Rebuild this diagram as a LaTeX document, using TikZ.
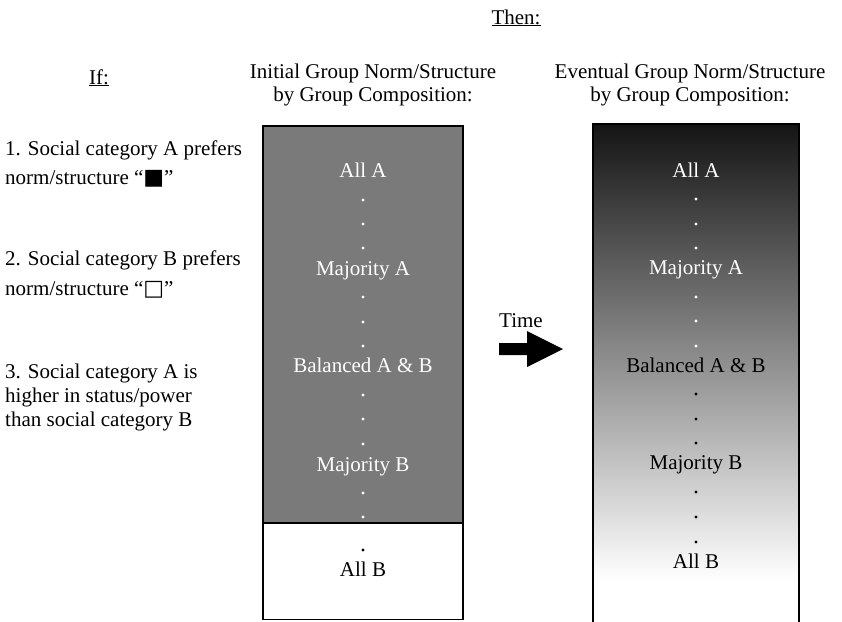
\documentclass[tikz,border=0pt]{standalone}
\usepackage{fontspec}
\setmainfont{Liberation Serif}
\newfontfamily\symfont{DejaVu Sans}

\definecolor{initgray}{gray}{0.48}

\begin{document}
\begin{tikzpicture}[x=1pt, y=-1pt, font=\fontsize{21}{24}\selectfont,
    lbl/.style={anchor=base, inner sep=0pt},
    item/.style={anchor=base west, inner sep=0pt}]

  \useasboundingbox (0,0) rectangle (842,621);

  % Заглавия
  \node[lbl] (then) at (516,24) {\underline{Then:}};
  \node[lbl] (if) at (99,84) {\underline{If:}};
  \node[lbl] (initA) at (373,78) {Initial Group Norm/Structure};
  \node[lbl] (initB) at (373,101) {by Group Composition:};
  \node[lbl] (evenA) at (690,78) {Eventual Group Norm/Structure};
  \node[lbl] (evenB) at (690,101) {by Group Composition:};

  % Условия
  \node[item] (c1a) at (5,155) {1. Social category A prefers};
  \node[item] (c1b) at (5,184) {norm/structure “{\symfont\fontsize{22}{24}\selectfont■}”};
  \node[item] (c2a) at (5,265) {2. Social category B prefers};
  \node[item] (c2b) at (5,295) {norm/structure “{\symfont\fontsize{22}{24}\selectfont□}”};
  \node[item] (c3a) at (5,378) {3. Social category A is};
  \node[item] (c3b) at (5,402) {higher in status/power};
  \node[item] (c3c) at (5,426) {than social category B};

  % Начална група
  \def\xa{363}
  \fill[initgray] (263,126) rectangle (463,523);
  \draw[line width=1.5pt] (263,126) rectangle (463,619.5);
  \draw[line width=1.5pt] (263,523) -- (463,523);
  \node[lbl, white] (iAllA) at (\xa,177) {All A};
  \node[lbl, white] (iMajA) at (\xa,275) {Majority A};
  \node[lbl, white] (iBal) at (\xa,372) {Balanced A \& B};
  \node[lbl, white] (iMajB) at (\xa,471) {Majority B};
  \node[lbl] (iAllB) at (\xa,576) {All B};
  \foreach \y in {200,224,248,297,322,346,395,419,444,493,517}
    \fill[white] (\xa,\y) circle (1.7);
  \fill[black] (\xa,550) circle (1.7);

  % Време
  \node[lbl] (time) at (521,327) {Time};
  \coordinate (T) at (499,343);
  \fill[black] (T) -- ++(28,0) -- ++(0,-12) -- ++(36,18) -- ++(-36,18)
    -- ++(0,-12) -- ++(-28,0) -- cycle;

  % Крайна група
  \def\xb{696}
  \shade[top color=black!92, middle color=black!50, bottom color=white]
    (593,124) rectangle (799,580);
  \fill[white] (593,580) rectangle (799,625);
  \draw[line width=1.5pt] (593,124) rectangle (799,625);
  \node[lbl, white] (eAllA) at (\xb,177) {All A};
  \node[lbl, white] (eMajA) at (\xb,274) {Majority A};
  \node[lbl] (eBal) at (\xb,372) {Balanced A \& B};
  \node[lbl] (eMajB) at (\xb,469) {Majority B};
  \node[lbl] (eAllB) at (\xb,568) {All B};
  \foreach \y in {199,224,248,297,321,346}
    \fill[white] (\xb,\y) circle (1.7);
  \foreach \y in {394,419,443,492,517,542}
    \fill[black] (\xb,\y) circle (1.7);

\end{tikzpicture}
\end{document}
